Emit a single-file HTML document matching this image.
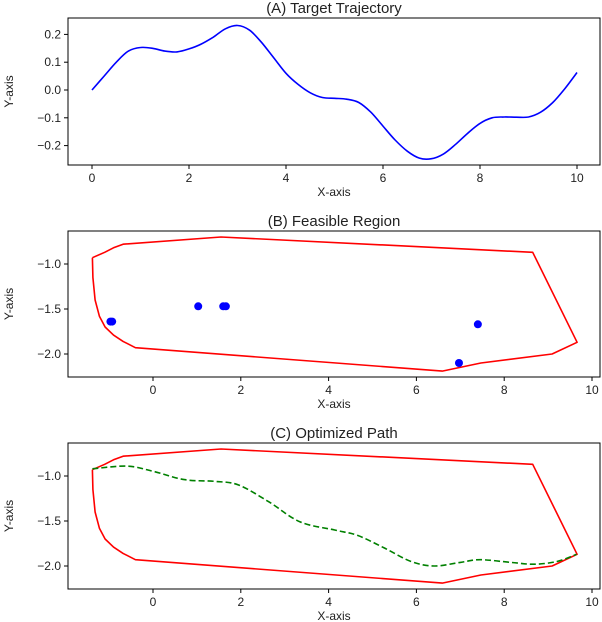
<!DOCTYPE html>
<html><head><meta charset="utf-8"><style>
body{margin:0;background:#fff;}
svg{display:block;font-family:"Liberation Sans","DejaVu Sans",sans-serif;}
</style></head><body>
<svg id="chart" width="602" height="622"></svg>
<script>
const trajX=[0,0.25,0.5,0.75,1,1.25,1.5,1.75,2,2.25,2.5,2.75,3,3.25,3.5,3.75,4,4.25,4.5,4.75,5,5.25,5.5,5.75,6,6.25,6.5,6.75,7,7.25,7.5,7.75,8,8.25,8.5,8.75,9,9.25,9.5,9.75,10];
const trajY=[0,0.05,0.1,0.14,0.153,0.15,0.14,0.137,0.148,0.165,0.19,0.22,0.232,0.215,0.17,0.115,0.06,0.02,-0.01,-0.027,-0.03,-0.033,-0.045,-0.08,-0.13,-0.18,-0.22,-0.245,-0.247,-0.23,-0.195,-0.155,-0.12,-0.1,-0.097,-0.098,-0.097,-0.08,-0.045,0.005,0.063];
const regionX=[-1.38,-1.1,-0.9,-0.68,1.55,8.65,9.66,9.09,7.47,6.59,-0.40,-0.68,-0.9,-1.09,-1.22,-1.32,-1.37,-1.38];
const regionY=[-0.93,-0.87,-0.82,-0.78,-0.70,-0.87,-1.87,-2.0,-2.10,-2.19,-1.93,-1.86,-1.79,-1.70,-1.58,-1.40,-1.15,-0.93];
const dotX=[-0.97,-0.93,1.03,1.60,1.66,7.40,6.97];
const dotY=[-1.64,-1.64,-1.47,-1.47,-1.47,-1.67,-2.10];
const pathX=[-1.38,-0.59,0.02,0.71,1.42,1.95,2.65,3.35,4.14,4.66,5.27,5.88,6.41,7.0,7.45,8.15,8.68,9.2,9.65];
const pathY=[-0.92,-0.89,-0.95,-1.04,-1.06,-1.10,-1.29,-1.51,-1.60,-1.66,-1.80,-1.95,-2.0,-1.96,-1.93,-1.96,-1.98,-1.95,-1.87];
const xTicksA=[0,2,4,6,8,10], yTicksA=[0.2,0.1,0.0,-0.1,-0.2];
const xTicksB=[0,2,4,6,8,10], yTicksB=[-1.0,-1.5,-2.0];

const NS="http://www.w3.org/2000/svg";
const svg=document.getElementById('chart');
function mk(tag,attrs,parent){const e=document.createElementNS(NS,tag);for(const k in attrs)e.setAttribute(k,attrs[k]);(parent||svg).appendChild(e);return e;}
function fmt(v,d){return (v<0?'\u2212':'')+Math.abs(v).toFixed(d);}
function panel(p){
  const g=mk('g',{});
  
  
  const sx=v=>p.x0+(v-p.xa)*p.xs, sy=v=>p.y0-(v-p.ya)*p.ys;
  const t=mk('text',{x:(p.L+p.R)/2,y:p.T-5,'text-anchor':'middle','font-size':15,fill:'#222'},g);t.textContent=p.title;
  
  p.xt.forEach(v=>{const x=sx(v);mk('line',{x1:x,x2:x,y1:p.B,y2:p.B+4,stroke:'#000'},g);
    const l=mk('text',{x:x,y:p.B+17,'text-anchor':'middle','font-size':12,fill:'#222'},g);l.textContent=String(v);
    });
  p.yt.forEach(v=>{const y=sy(v);mk('line',{x1:p.L-4,x2:p.L,y1:y,y2:y,stroke:'#000'},g);
    const l=mk('text',{x:p.L-7,y:y+4,'text-anchor':'end','font-size':12,fill:'#222'},g);l.textContent=fmt(v,p.dec);
    });
  const xl=mk('text',{x:(p.L+p.R)/2,y:p.B+31,'text-anchor':'middle','font-size':12,fill:'#222'},g);xl.textContent='X-axis';
  
  const yl=mk('text',{x:0,y:0,'text-anchor':'middle','font-size':12,fill:'#222',transform:`translate(13,${(p.T+p.B)/2}) rotate(-90)`},g);yl.textContent='Y-axis';
  
  p.draw(g,sx,sy);
  const fr=mk('rect',{x:p.L,y:p.T,width:p.R-p.L,height:p.B-p.T,fill:'none',stroke:'#000','stroke-width':1},g);
  
}
function poly(g,xs,ys,sx,sy,attrs,name){
  const pts=xs.map((v,i)=>sx(v).toFixed(1)+','+sy(ys[i]).toFixed(1)).join(' ');
  const e=mk('polyline',Object.assign({points:pts,fill:'none','stroke-linejoin':'round'},attrs),g);
  
}
function smooth(g,xs,ys,sx,sy,attrs,name){
  const P=xs.map((v,i)=>[sx(v),sy(ys[i])]);
  let d='M'+P[0][0].toFixed(1)+','+P[0][1].toFixed(1);
  for(let i=0;i<P.length-1;i++){
    const p0=P[Math.max(i-1,0)],p1=P[i],p2=P[i+1],p3=P[Math.min(i+2,P.length-1)];
    const c1=[p1[0]+(p2[0]-p0[0])/6,p1[1]+(p2[1]-p0[1])/6],c2=[p2[0]-(p3[0]-p1[0])/6,p2[1]-(p3[1]-p1[1])/6];
    d+=`C${c1[0].toFixed(1)},${c1[1].toFixed(1)} ${c2[0].toFixed(1)},${c2[1].toFixed(1)} ${p2[0].toFixed(1)},${p2[1].toFixed(1)}`;
  }
  const e=mk('path',Object.assign({d:d,fill:'none'},attrs),g);
  
}
panel({name:'panel-a',title:'(A) Target Trajectory',L:68,R:600,T:18,B:165,x0:92,xa:0,xs:48.5,y0:90,ya:0,ys:278,xt:xTicksA,yt:yTicksA,dec:1,
  draw:(g,sx,sy)=>smooth(g,trajX,trajY,sx,sy,{stroke:'#0000ff','stroke-width':1.6},'target-trajectory-line')});
panel({name:'panel-b',title:'(B) Feasible Region',L:68,R:600,T:231,B:377,x0:153,xa:0,xs:43.9,y0:264,ya:-1,ys:90,xt:xTicksB,yt:yTicksB,dec:1,
  draw:(g,sx,sy)=>{poly(g,regionX,regionY,sx,sy,{stroke:'#ff0000','stroke-width':1.6},'feasible-region-boundary');
    dotX.forEach((v,i)=>{const c=mk('circle',{cx:sx(v),cy:sy(dotY[i]),r:4,fill:'#0000ff'},g);
      });}});
panel({name:'panel-c',title:'(C) Optimized Path',L:68,R:600,T:443,B:589,x0:153,xa:0,xs:43.9,y0:476,ya:-1,ys:90,xt:xTicksB,yt:yTicksB,dec:1,
  draw:(g,sx,sy)=>{poly(g,regionX,regionY,sx,sy,{stroke:'#ff0000','stroke-width':1.6},'feasible-region-boundary');
    smooth(g,pathX,pathY,sx,sy,{stroke:'#008000','stroke-width':1.6,'stroke-dasharray':'6,3'},'optimized-path-line');}});
</script>
</body></html>
